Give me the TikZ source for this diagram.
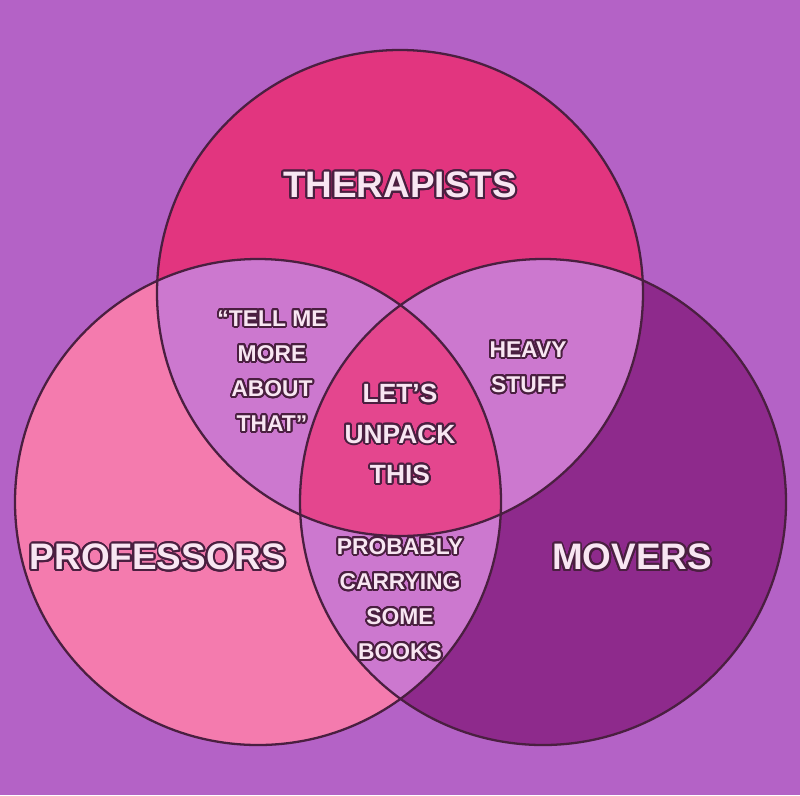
\documentclass[tikz,border=0pt]{standalone}
\usepackage{fontspec}
\setmainfont{Liberation Sans}
\usepackage{contour}
\contourlength{1.1pt}
\contournumber{24}
\definecolor{bg}{HTML}{B462C6}
\definecolor{ther}{HTML}{E2357F}
\definecolor{prof}{HTML}{F47BAE}
\definecolor{mov}{HTML}{8E2A8C}
\definecolor{mid}{HTML}{CC78CF}
\definecolor{core}{HTML}{E4468E}
\definecolor{txt}{HTML}{F8E6F2}
\definecolor{ink}{HTML}{4A1F40}
\begin{document}
\begin{tikzpicture}[x=0.02cm,y=-0.02cm,
  big/.style={font=\bfseries\fontsize{21}{24}\selectfont,text=txt},
  small/.style={font=\bfseries\fontsize{13}{20}\selectfont,text=txt,align=center},
  ring/.style={draw=ink,line width=1.3pt}]
\fill[bg] (0,0) rectangle (800,795);
\coordinate (T) at (400,293);
\coordinate (P) at (258,502);
\coordinate (M) at (543,502);
\def\R{243}
\fill[ther] (T) circle (\R);
\fill[prof] (P) circle (\R);
\fill[mov] (M) circle (\R);
\begin{scope}\clip (T) circle (\R); \fill[mid] (P) circle (\R);\end{scope}
\begin{scope}\clip (T) circle (\R); \fill[mid] (M) circle (\R);\end{scope}
\begin{scope}\clip (P) circle (\R); \fill[mid] (M) circle (\R);\end{scope}
\begin{scope}\clip (T) circle (\R); \clip (P) circle (\R); \fill[core] (M) circle (\R);\end{scope}
\draw[ring] (T) circle (\R);
\draw[ring] (P) circle (\R);
\draw[ring] (M) circle (\R);
\node[big] (t) at (400,186) {\contour{ink}{THERAPISTS}};
\node[big] (p) at (158,558) {\contour{ink}{PROFESSORS}};
\node[big] (m) at (632,558) {\contour{ink}{MOVERS}};
\node[small] (tp) at (272,372) {\contour{ink}{``TELL ME}\\\contour{ink}{MORE}\\\contour{ink}{ABOUT}\\\contour{ink}{THAT''}};
\node[small] (tm) at (528,368) {\contour{ink}{HEAVY}\\\contour{ink}{STUFF}};
\node[small,font=\bfseries\fontsize{15}{23}\selectfont] (c) at (400,435) {\contour{ink}{LET'S}\\\contour{ink}{UNPACK}\\\contour{ink}{THIS}};
\node[small] (pm) at (400,600) {\contour{ink}{PROBABLY}\\\contour{ink}{CARRYING}\\\contour{ink}{SOME}\\\contour{ink}{BOOKS}};
\end{tikzpicture}
\end{document}
